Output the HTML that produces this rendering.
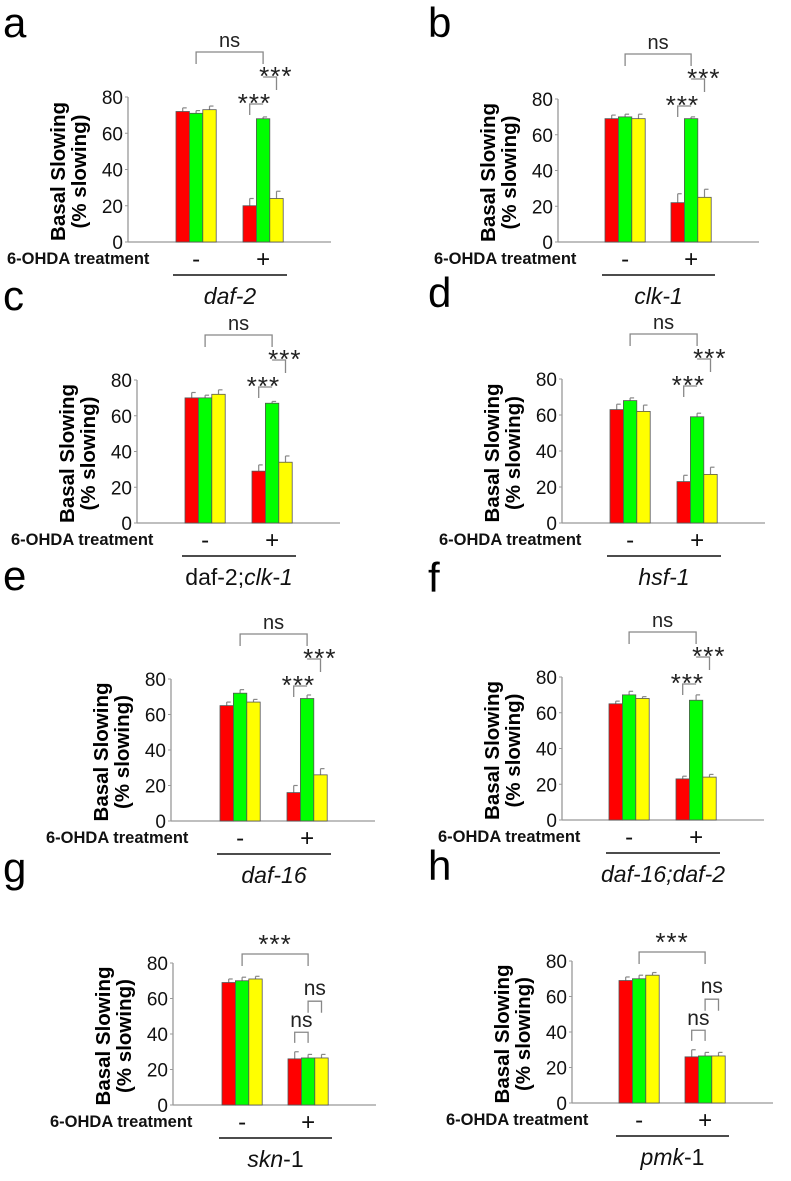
<!DOCTYPE html>
<html><head><meta charset="utf-8">
<style>
html,body{margin:0;padding:0;background:#fff;}
svg{display:block;font-family:"Liberation Sans",sans-serif;}
</style></head>
<body>
<svg id="fig" width="791" height="1181" viewBox="0 0 791 1181"></svg>
<script>
// data (% slowing) per panel: [group -, group +] x [red, green, yellow]
const panelLetters = ['a','b','c','d','e','f','g','h'];
const geneLabels = ['daf-2','clk-1','daf-2;clk-1','hsf-1','daf-16','daf-16;daf-2','skn-1','pmk-1'];
const valuesA = [[72,71,73],[20,68,24]];
const valuesB = [[69,70,69],[22,69,25]];
const valuesC = [[70,70,72],[29,67,34]];
const valuesD = [[63,68,62],[23,59,27]];
const valuesE = [[65,72,67],[16,69,26]];
const valuesF = [[65,70,68],[23,67,24]];
const valuesG = [[69,70,71],[26,26.5,26.5]];
const valuesH = [[69,70,72],[26,26.5,26.5]];
const errorsA = [[2,1.5,2],[4,1,4]];
const errorsB = [[2,1.5,2.5],[5,1,4.5]];
const errorsC = [[3,1.5,2.5],[3.5,1,3.5]];
const errorsD = [[3,1.5,3.5],[3.5,2,4]];
const errorsE = [[2,2,1.5],[4,2,3.5]];
const errorsF = [[1.5,2,1],[1.5,3,1.5]];
const errorsG = [[2,2,1.5],[4,2,2]];
const errorsH = [[2,2,1.5],[4,2,2]];
const yTicks = [0,20,40,60,80];
const groupLabels = ['-','+'];

const allValues=[valuesA,valuesB,valuesC,valuesD,valuesE,valuesF,valuesG,valuesH];
const allErrors=[errorsA,errorsB,errorsC,errorsD,errorsE,errorsF,errorsG,errorsH];
const layout=[
 {ax:128,y80:97,y0:242,g1:176,g2:243,tx:7,lx:3,ly:37},
 {ax:558,y80:99,y0:242,g1:605,g2:671,tx:434,lx:428,ly:37},
 {ax:137,y80:380,y0:523,g1:185,g2:252,tx:11,lx:3,ly:310},
 {ax:562,y80:379,y0:523,g1:610,g2:677,tx:439,lx:428,ly:307},
 {ax:171,y80:679,y0:821,g1:220,g2:287,tx:46,lx:3,ly:590},
 {ax:562,y80:677,y0:820,g1:609,g2:676,tx:438,lx:428,ly:592},
 {ax:173,y80:963,y0:1105,g1:222,g2:288,tx:50,lx:3,ly:882},
 {ax:572,y80:961,y0:1103,g1:619,g2:685,tx:446,lx:428,ly:880}
];
const colors=['#ff0000','#00ff00','#ffff00'];
const NS='http://www.w3.org/2000/svg';
const svg=document.getElementById('fig');
function mk(tag,attrs,parent,text){const e=document.createElementNS(NS,tag);for(const k in attrs)e.setAttribute(k,attrs[k]);if(text!==undefined)e.textContent=text;(parent||svg).appendChild(e);return e;}
const BW=13.4;
function bracket(g,x1,x2,yTop,yb1,yb2){
  mk('path',{d:`M${x1},${yb1}V${yTop}H${x2}V${yb2}`,fill:'none',stroke:'#888','stroke-width':1.3},g);
}
layout.forEach((L,p)=>{
  const g=mk('g',{});
  
  
  const ys=v=>L.y0-(L.y0-L.y80)*v/80;
  const gx=[L.g1,L.g2];
  const barX=(gi,si)=>gx[gi]+si*BW;
  const cx=(gi,si)=>barX(gi,si)+BW/2;
  const lt=mk('text',{x:L.lx,y:L.ly,'font-size':42,fill:'#000'},g,panelLetters[p]);
  
  
  mk('line',{x1:L.ax,y1:ys(80),x2:L.ax,y2:L.y0,stroke:'#999','stroke-width':1.3},g);
  mk('line',{x1:L.ax,y1:L.y0,x2:L.g2+88,y2:L.y0,stroke:'#999','stroke-width':1.3},g);
  yTicks.forEach(t=>{
    mk('line',{x1:L.ax-3,y1:ys(t),x2:L.ax,y2:ys(t),stroke:'#999'},g);
    const tl=mk('text',{x:L.ax-5,y:ys(t)+7,'font-size':19,'text-anchor':'end',fill:'#111'},g,t);
    
    
  });
  const my=(L.y80+L.y0)/2+2;
  const t1=mk('text',{x:0,y:0,'font-size':20.5,'font-weight':'bold','text-anchor':'middle',transform:`translate(${L.ax-63},${my}) rotate(-90)`},g,'Basal Slowing');
  
  
  const t2=mk('text',{x:0,y:0,'font-size':20.5,'font-weight':'bold','text-anchor':'middle',transform:`translate(${L.ax-42},${my}) rotate(-90)`},g,'(% slowing)');
  
  
  const vals=allValues[p], errs=allErrors[p];
  vals.forEach((grp,gi)=>grp.forEach((v,si)=>{
    const x=barX(gi,si), y=ys(v), ey=ys(v+errs[gi][si]);
    mk('line',{x1:x+BW/2,y1:y,x2:x+BW/2,y2:ey,stroke:'#888','stroke-width':1.2},g);
    mk('line',{x1:x+BW/2,y1:ey,x2:x+BW/2+4,y2:ey,stroke:'#888','stroke-width':1.2},g);
    const r=mk('rect',{x:x,y:y,width:BW,height:L.y0-y,fill:colors[si],stroke:'#555','stroke-width':0.8},g);
    
    
  }));
  const tr=mk('text',{x:L.tx,y:L.y0+22,'font-size':16.5,'font-weight':'bold',fill:'#111'},g,'6-OHDA treatment');
  
  
  groupLabels.forEach((s,gi)=>{
    const e=mk('text',{x:cx(gi,1),y:L.y0+25,'font-size':24,'text-anchor':'middle',fill:'#111'},g,s);
    
    
  });
  mk('line',{x1:L.g1-3,y1:L.y0+33,x2:L.g2+44,y2:L.y0+33,stroke:'#111','stroke-width':1.5},g);
  const gene=geneLabels[p];
  const gt=mk('text',{x:(L.g1+L.g2+41)/2,y:L.y0+62,'font-size':23,'text-anchor':'middle',fill:'#111'},g);
  
  
  if(p===2){mk('tspan',{},gt,'daf-2;');mk('tspan',{'font-style':'italic'},gt,'clk-1');}
  else if(p>=6){const parts=gene.split('-');mk('tspan',{'font-style':'italic'},gt,parts[0]);mk('tspan',{},gt,'-'+parts[1]);}
  else mk('tspan',{'font-style':'italic'},gt,gene);
  const sig=(txt,x,y,fs)=>{const e=mk('text',{x:x,y:y,'font-size':fs,'text-anchor':'middle',fill:'#222','letter-spacing':txt==='***'?1:0},g,txt);};
  if(p<6){
    bracket(g,cx(0,1),cx(1,1),L.y80-45,L.y80-33,L.y80-33);
    sig('ns',(cx(0,1)+cx(1,1))/2,L.y80-50,20);
    bracket(g,cx(1,1),cx(1,2),L.y80-20,L.y80-20,L.y80-7);
    sig('***',(cx(1,1)+cx(1,2))/2+6,L.y80-12,26);
    bracket(g,cx(1,0),cx(1,1),L.y80+7,L.y80+18,L.y80+7);
    sig('***',(cx(1,0)+cx(1,1))/2-2,L.y80+15,26);
  } else {
    bracket(g,cx(0,1),cx(1,1),L.y80-9,L.y80+3,L.y80+3);
    sig('***',(cx(0,1)+cx(1,1))/2,L.y80-10,26);
    bracket(g,cx(1,0),cx(1,1),ys(41),ys(35),ys(35));
    sig('ns',(cx(1,0)+cx(1,1))/2,ys(44),21);
    bracket(g,cx(1,1),cx(1,2),ys(58.5),ys(52),ys(52));
    sig('ns',(cx(1,1)+cx(1,2))/2,ys(62),21);
  }
});
</script>
</body></html>
